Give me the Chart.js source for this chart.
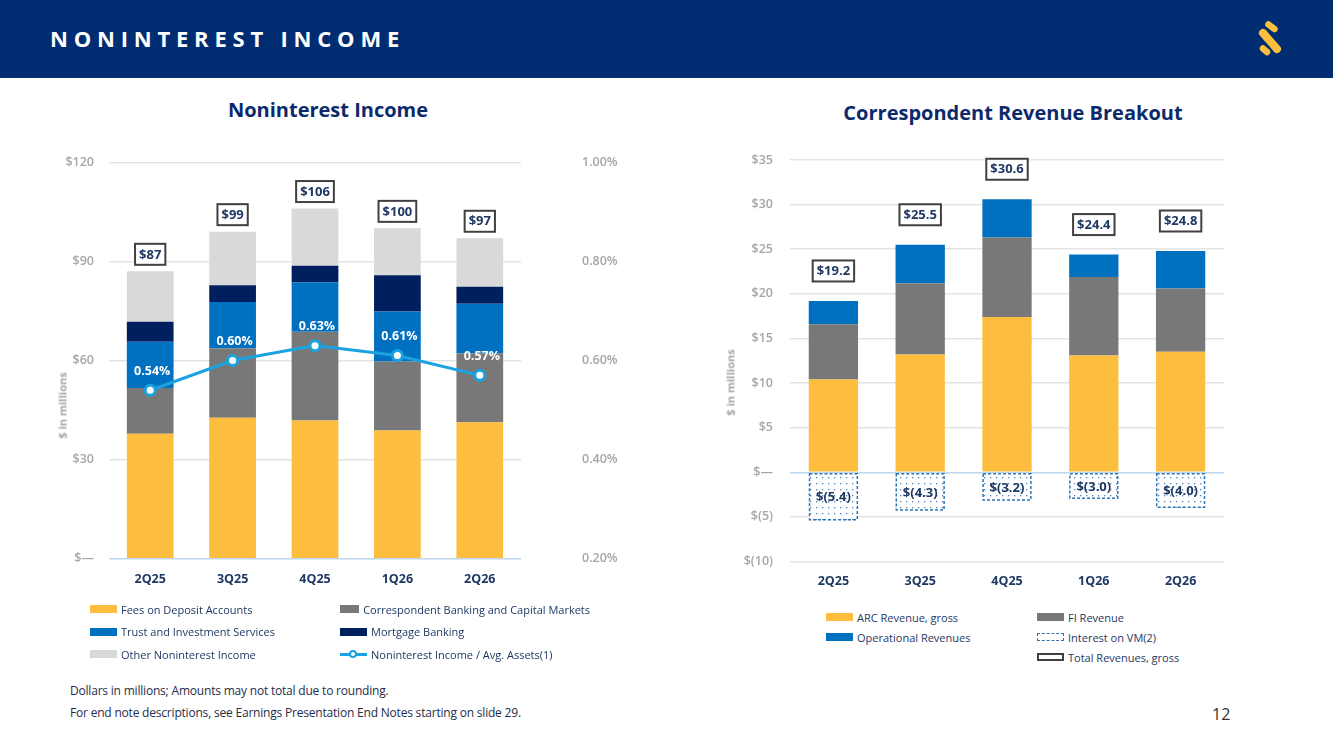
<!DOCTYPE html>
<html>
<head>
<meta charset="utf-8">
<script src="https://cdn.jsdelivr.net/npm/chart.js@4.4.1/dist/chart.umd.min.js"></script>
<style>
  body { margin: 0; width: 1333px; height: 749px; position: relative; overflow: hidden; background: #fff; font-family: "Open Sans", sans-serif; }
  .hdr { position: absolute; left: 0; top: 0; width: 1333px; height: 78px; background: #002d72; }
  .hdr h1 { position: absolute; left: 50px; top: 23px; margin: 0; color: #fff; font-size: 22px; font-weight: 700; letter-spacing: 5.8px; line-height: 30px; }
  .hdr svg { position: absolute; left: 1250px; top: 16px; }
  .ctitle { position: absolute; color: #0c2a6b; font-size: 20px; font-weight: 700; text-align: center; }
  .ytitle { position: absolute; color: #a6a6a6; font-size: 11px; font-weight: 700; transform: rotate(-90deg); transform-origin: center; white-space: nowrap; }
  canvas { position: absolute; }
  .legend { position: absolute; display: grid; font-size: 11px; color: #1f3864; }
  .legend .it { display: flex; align-items: center; white-space: nowrap; }
  .legend .sw { display: inline-block; width: 27px; height: 8px; margin-right: 4px; box-sizing: border-box; position: relative; }
  .note { position: absolute; left: 70px; font-size: 12px; color: #262d4a; letter-spacing: -0.2px; }
  .pg { position: absolute; left: 1212px; top: 703px; font-size: 16px; color: #333; }
</style>
</head>
<body>
<div class="hdr">
  <h1>NONINTEREST INCOME</h1>
  <svg width="40" height="46" viewBox="0 0 40 46">
    <g stroke="#fbbf3c" stroke-linecap="round" fill="none">
      <line x1="18.5" y1="8.5" x2="24.5" y2="13" stroke-width="6.5"/>
      <line x1="13" y1="17" x2="27" y2="33" stroke-width="8"/>
      <line x1="13" y1="32.5" x2="17" y2="36" stroke-width="6.5"/>
    </g>
  </svg>
</div>

<div class="ctitle" style="left:178px; top:96px; width:300px;">Noninterest Income</div>
<div class="ctitle" style="left:813px; top:99px; width:400px;">Correspondent Revenue Breakout</div>

<canvas id="nonintChart" width="600" height="460" style="left:40px; top:145px;"></canvas>
<canvas id="corrChart" width="560" height="460" style="left:700px; top:145px;"></canvas>

<div class="ytitle" style="left:22px; top:398px; width:80px; text-align:center;">$ in millions</div>
<div class="ytitle" style="left:690px; top:375px; width:80px; text-align:center;">$ in millions</div>

<div id="nonintLegend" class="legend" style="left:90px; top:598px; grid-template-columns:250px 250px; grid-auto-rows:22.5px;"></div>
<div id="corrLegend" class="legend" style="left:826px; top:607px; grid-template-columns:211px 211px; grid-auto-rows:20px;"></div>

<div class="note" style="top:682px;">Dollars in millions; Amounts may not total due to rounding.</div>
<div class="note" style="top:704px;">For end note descriptions, see Earnings Presentation End Notes starting on slide 29.</div>
<div class="pg">12</div>

<script>
// ---- data ----
var quarters = ["2Q25", "3Q25", "4Q25", "1Q26", "2Q26"];

var depositFees = [37.8, 42.7, 41.8, 38.8, 41.3];
var correspondentBanking = [13.9, 21.0, 26.9, 20.9, 20.8];
var trustServices = [14.0, 14.0, 15.0, 15.1, 15.1];
var mortgageBanking = [6.0, 5.1, 5.0, 11.0, 5.1];
var otherIncome = [15.3, 16.2, 17.3, 14.2, 14.7];
var nonintTotals = [87, 99, 106, 100, 97];
var nonintToAssets = [0.54, 0.60, 0.63, 0.61, 0.57];
var nonintTickLabels = {0: "$—", 30: "$30", 60: "$60", 90: "$90", 120: "$120"};

var arcRevenue = [10.4, 13.2, 17.4, 13.1, 13.5];
var fiRevenue = [6.2, 8.0, 8.9, 8.8, 7.1];
var operationalRevenue = [2.6, 4.3, 4.3, 2.5, 4.2];
var interestOnVM = [-5.4, -4.3, -3.2, -3.0, -4.0];
var corrTotals = [19.2, 25.5, 30.6, 24.4, 24.8];
var corrTickLabels = {"-10": "$(10)", "-5": "$(5)", "0": "$—", "5": "$5", "10": "$10", "15": "$15", "20": "$20", "25": "$25", "30": "$30", "35": "$35"};

// ---- shared ----
Chart.defaults.font.family = '"Open Sans", sans-serif';
Chart.defaults.animation = false;

var YELLOW = "#fdbe3f", GRAY = "#787878", BLUE = "#0070c0", NAVY = "#001f5f", LIGHT = "#d9d9d9", CYAN = "#1aa3e0";

function gridColor(c) {
    return c.tick.value === 0 ? "#bdd7ee" : "#e4e4e4";
}

// fixed axis box; keep tick padding from pushing the chart area in
function fixWidth(w) {
    return function (s) {
        s.width = w;
        s.paddingTop = 7;
        s.paddingBottom = 7;
    };
}

function drawBox(ctx, text, cx, cy) {
    ctx.save();
    ctx.font = '700 13px "Open Sans"';
    var w = ctx.measureText(text).width + 8, h = 21;
    ctx.fillStyle = "#fff";
    ctx.fillRect(cx - w / 2, cy - h / 2, w, h);
    ctx.lineWidth = 2;
    ctx.strokeStyle = "#404040";
    ctx.strokeRect(cx - w / 2, cy - h / 2, w, h);
    ctx.fillStyle = "#1f3864";
    ctx.textAlign = "center";
    ctx.textBaseline = "middle";
    ctx.fillText(text, cx, cy + 0.5);
    ctx.restore();
}

function dotPattern() {
    var c = document.createElement("canvas");
    c.width = 6; c.height = 6;
    var g = c.getContext("2d");
    g.fillStyle = "#fff";
    g.fillRect(0, 0, 6, 6);
    g.fillStyle = "#4f86c0";
    g.fillRect(2, 2, 1.3, 1.3);
    return g.createPattern(c, "repeat");
}

function htmlLegend(chart, el, slots) {
    chart.data.datasets.forEach(function (ds, i) {
        var it = document.createElement("div");
        it.className = "it";
        if (slots && slots[i]) it.style.gridColumn = slots[i];
        var sw = document.createElement("span");
        sw.className = "sw";
        if (ds.legendKind === "line") {
            sw.style.height = "10px";
            sw.innerHTML = '<span style="position:absolute;left:0;top:3.5px;width:27px;height:3px;background:' + CYAN + '"></span>' +
                '<span style="position:absolute;left:9px;top:1px;width:8px;height:8px;border-radius:50%;box-sizing:border-box;border:2px solid ' + CYAN + ';background:#fff"></span>';
        } else if (ds.legendKind === "dashed") {
            sw.style.border = "1.5px dashed #2e75b6";
            sw.style.background = "#fff";
        } else if (ds.legendKind === "outline") {
            sw.style.border = "2px solid #404040";
            sw.style.background = "#fff";
        } else {
            sw.style.background = ds.backgroundColor;
        }
        it.appendChild(sw);
        it.appendChild(document.createTextNode(ds.label));
        el.appendChild(it);
    });
}

// ---- Noninterest Income ----
var nonintLabels = {
    id: "nonintLabels",
    afterDatasetsDraw: function (chart) {
        var ctx = chart.ctx, y = chart.scales.y;
        var bars = chart.getDatasetMeta(0).data;
        nonintTotals.forEach(function (v, i) {
            drawBox(ctx, "$" + v, bars[i].x, y.getPixelForValue(v) - 17);
        });
        var pts = chart.getDatasetMeta(5).data;
        ctx.save();
        ctx.font = '700 12.5px "Open Sans"';
        ctx.fillStyle = "#fff";
        ctx.textAlign = "center";
        ctx.textBaseline = "middle";
        nonintToAssets.forEach(function (v, i) {
            ctx.fillText(v.toFixed(2) + "%", pts[i].x + 2, pts[i].y - 19);
        });
        ctx.restore();
    }
};

var barCommon = { stack: "s", barPercentage: 0.567, categoryPercentage: 1, borderWidth: 0, order: 1, yAxisID: "y" };

var nonintChart = new Chart(document.getElementById("nonintChart"), {
    type: "bar",
    data: {
        labels: quarters,
        datasets: [
            Object.assign({ label: "Fees on Deposit Accounts", data: depositFees, backgroundColor: YELLOW }, barCommon),
            Object.assign({ label: "Correspondent Banking and Capital Markets", data: correspondentBanking, backgroundColor: GRAY }, barCommon),
            Object.assign({ label: "Trust and Investment Services", data: trustServices, backgroundColor: BLUE }, barCommon),
            Object.assign({ label: "Mortgage Banking", data: mortgageBanking, backgroundColor: NAVY }, barCommon),
            Object.assign({ label: "Other Noninterest Income", data: otherIncome, backgroundColor: LIGHT }, barCommon),
            {
                type: "line", label: "Noninterest Income / Avg. Assets(1)", data: nonintToAssets, yAxisID: "y1", order: 0,
                borderColor: CYAN, borderWidth: 3, pointRadius: 5, pointBorderWidth: 3,
                pointBackgroundColor: "#fff", pointBorderColor: CYAN, legendKind: "line"
            }
        ]
    },
    options: {
        responsive: false,
        layout: { padding: { top: 17.3, left: 0, right: 0, bottom: 0 } },
        plugins: { legend: { display: false }, tooltip: { enabled: false } },
        scales: {
            x: {
                stacked: true,
                grid: { display: false },
                border: { display: false },
                ticks: { color: "#1f3864", font: { size: 12.5, weight: 700 }, padding: 5 },
                afterFit: function (s) { s.height = 46.3; }
            },
            y: {
                stacked: true, min: 0, max: 120,
                grid: { color: gridColor, lineWidth: 1.5, drawTicks: false },
                border: { display: false },
                ticks: {
                    stepSize: 30, color: "#a6a6a6", font: { size: 12.5, weight: 600 }, padding: 15,
                    callback: function (v) { return nonintTickLabels[v]; }
                },
                afterFit: fixWidth(69)
            },
            y1: {
                position: "right", min: 0.2, max: 1.0,
                grid: { drawOnChartArea: false, drawTicks: false },
                border: { display: false },
                ticks: {
                    stepSize: 0.2, color: "#a6a6a6", font: { size: 12.5, weight: 600 }, padding: 61,
                    callback: function (v) { return v.toFixed(2) + "%"; }
                },
                afterFit: fixWidth(119)
            }
        }
    },
    plugins: [nonintLabels]
});
htmlLegend(nonintChart, document.getElementById("nonintLegend"));

// ---- Correspondent Revenue Breakout ----
var corrLabels = {
    id: "corrLabels",
    afterDatasetsDraw: function (chart) {
        var ctx = chart.ctx;
        var vm = chart.getDatasetMeta(3).data;
        ctx.save();
        ctx.strokeStyle = "#2e75b6";
        ctx.lineWidth = 1.5;
        ctx.setLineDash([3, 2]);
        vm.forEach(function (b) {
            ctx.strokeRect(b.x - b.width / 2 + 0.75, b.base + 0.75, b.width - 1.5, b.y - b.base - 1.5);
        });
        ctx.setLineDash([]);
        ctx.font = '700 13px "Open Sans"';
        ctx.fillStyle = "#1f3864";
        ctx.textAlign = "center";
        ctx.textBaseline = "middle";
        interestOnVM.forEach(function (v, i) {
            ctx.fillText("$(" + Math.abs(v).toFixed(1) + ")", vm[i].x, (vm[i].y + vm[i].base) / 2 + 1);
        });
        ctx.restore();
        var tot = chart.getDatasetMeta(4).data;
        corrTotals.forEach(function (v, i) {
            drawBox(ctx, "$" + v.toFixed(1), tot[i].x, tot[i].y - 30);
        });
    }
};

var corrBar = { stack: "s", barPercentage: 0.568, categoryPercentage: 1, borderWidth: 0, order: 1 };

var corrChart = new Chart(document.getElementById("corrChart"), {
    type: "bar",
    data: {
        labels: quarters,
        datasets: [
            Object.assign({ label: "ARC Revenue, gross", data: arcRevenue, backgroundColor: YELLOW }, corrBar),
            Object.assign({ label: "FI Revenue", data: fiRevenue, backgroundColor: GRAY }, corrBar),
            Object.assign({ label: "Operational Revenues", data: operationalRevenue, backgroundColor: BLUE }, corrBar),
            Object.assign({ label: "Interest on VM(2)", data: interestOnVM, backgroundColor: dotPattern(), legendKind: "dashed" }, corrBar),
            {
                type: "line", label: "Total Revenues, gross", data: corrTotals, order: 0,
                showLine: false, pointRadius: 0, borderColor: "#404040", backgroundColor: "#fff", legendKind: "outline"
            }
        ]
    },
    options: {
        responsive: false,
        layout: { padding: { top: 15, left: 0, right: 36, bottom: 0 } },
        plugins: { legend: { display: false }, tooltip: { enabled: false } },
        scales: {
            x: {
                stacked: true,
                grid: { display: false },
                border: { display: false },
                ticks: { color: "#1f3864", font: { size: 12.5, weight: 700 }, padding: 4 },
                afterFit: function (s) { s.height = 43.5; }
            },
            y: {
                stacked: true, min: -10, max: 35,
                grid: { color: gridColor, lineWidth: 1.5, drawTicks: false },
                border: { display: false },
                ticks: {
                    stepSize: 5, color: "#a6a6a6", font: { size: 12.5, weight: 600 }, padding: 17,
                    callback: function (v) { return corrTickLabels[String(v)]; }
                },
                afterFit: fixWidth(90)
            }
        }
    },
    plugins: [corrLabels]
});
htmlLegend(corrChart, document.getElementById("corrLegend"), { 4: "2" });
</script>
</body>
</html>
